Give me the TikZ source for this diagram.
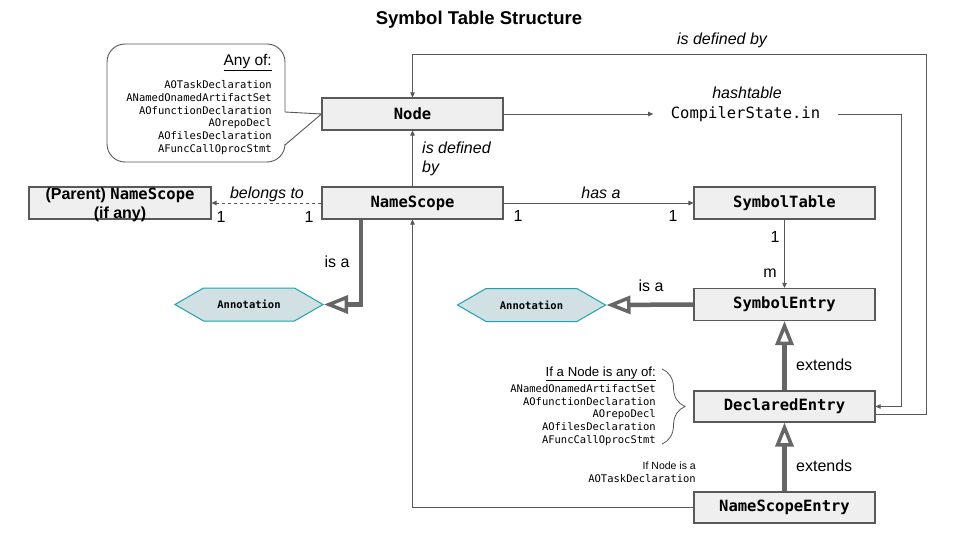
\documentclass[tikz,border=0pt]{standalone}
\usepackage{fontspec}
\setmainfont{Liberation Sans}
\setmonofont{DejaVu Sans Mono}
\usetikzlibrary{arrows.meta,shapes.symbols,decorations.pathreplacing}
\definecolor{boxfill}{HTML}{EFEFEF}
\definecolor{linegray}{HTML}{595959}
\definecolor{thickgray}{HTML}{666666}
\definecolor{hexfill}{HTML}{D0E0E3}
\definecolor{hexline}{HTML}{1AA3B2}
\tikzset{
  classbox/.style={draw=linegray, fill=boxfill, line width=1.1pt, minimum width=181pt, minimum height=32pt, inner sep=0pt, font=\fontsize{15.5}{18}\selectfont\ttfamily\bfseries},
  conn/.style={draw=linegray, line width=0.9pt, -{Triangle[length=5pt,width=4.5pt]}},
  isa/.style={draw=thickgray, line width=4.5pt, -{Triangle[open,length=24pt,width=18pt,line width=3.5pt]}},
  anno/.style={signal, signal to=west and east, signal pointer angle=60, draw=hexline, fill=hexfill, line width=1pt, minimum width=148pt, minimum height=33pt, inner sep=0pt, font=\fontsize{10.5}{12}\selectfont\ttfamily\bfseries},
  lbl/.style={font=\fontsize{16}{19}\selectfont\itshape, inner sep=0pt},
  plain/.style={font=\fontsize{16}{19}\selectfont, inner sep=0pt},
  smallmono/.style={font=\fontsize{10.5}{12.9}\selectfont\ttfamily, align=right, inner sep=0pt},
}
\begin{document}
\begin{tikzpicture}[x=1pt,y=-1pt]
		\useasboundingbox[fill=white] (0,0) rectangle (960,540);
		\node[font=\fontsize{18.5}{22}\selectfont\bfseries] (title) at (479,20) {Symbol Table Structure};
		% Classes
		\node[classbox] (Node) at (412.5,114) {Node};
		\node[classbox] (NameScope) at (412.5,203) {NameScope};
		\node[classbox, minimum width=182pt] (Parent) at (120,203) {};
		\node[font=\fontsize{16}{19}\selectfont\bfseries, align=center, inner sep=0pt] (parenttxt) at (120,205) {(Parent) {\fontsize{15.5}{19}\selectfont\ttfamily NameScope}\\(if any)};
		\node[classbox] (SymbolTable) at (784.5,203) {SymbolTable};
		\node[classbox] (SymbolEntry) at (784.5,304.5) {SymbolEntry};
		\node[classbox, minimum height=31pt] (DeclaredEntry) at (784.5,406.5) {DeclaredEntry};
		\node[classbox, minimum height=31pt] (NameScopeEntry) at (784.5,507.5) {NameScopeEntry};
		\node[font=\fontsize{15.5}{18}\selectfont\ttfamily, inner xsep=17.5pt, inner ysep=0pt] (hash) at (745.5,114) {CompilerState.in};
		\node[lbl] (hashlbl) at (747,93) {hashtable};
		% Annotations
		\node[anno] (annoL) at (249,304.5) {Annotation};
		\node[anno] (annoR) at (531.5,305) {Annotation};
		% Callout of Node
		\draw[linegray, line width=0.9pt, rounded corners=18pt] (285,145) -- (285,162) -- (107,162) -- (107,44) -- (285,44) -- (285,112);
		\draw[linegray, line width=0.9pt] (285,112) -- (Node.west) -- (285,145);
		\node[plain, anchor=east, font=\fontsize{15.5}{18}\selectfont] (anyof) at (272,63) {\underline{Any of:}};
		\node[smallmono, anchor=north east] (anylist) at (272,80) {AOTaskDeclaration\\ANamedOnamedArtifactSet\\AOfunctionDeclaration\\AOrepoDecl\\AOfilesDeclaration\\AFuncCallOprocStmt};
		% Node relations
		\draw[conn] (NameScope.north) -- (Node.south);
		\node[lbl, anchor=west, align=left] (defby) at (422,159) {is defined\\by};
		\draw[conn] (Node.east) -- (hash.west);
		\draw[conn] (hash.east) -| ([xshift=26pt]DeclaredEntry.east) -- (DeclaredEntry.east);
		\draw[conn] ([yshift=-7.5pt]DeclaredEntry.east) -| (926,54) -| (Node.north);
		\node[lbl] (defbytop) at (722,40) {is defined by};
		% NameScope relations
		\draw[conn, dashed] (NameScope.west) -- (Parent.east);
		\node[lbl] (belongs) at (267,194) {belongs to};
		\node[plain] at (221,217) {1};
		\node[plain] at (309,217) {1};
		\draw[conn] (NameScope.east) -- (SymbolTable.west);
		\node[lbl] (hasa) at (601,193) {has a};
		\node[plain] at (518,216) {1};
		\node[plain] at (673,216) {1};
		\draw[isa] ([xshift=-51.5pt]NameScope.south) |- (annoL.east);
		\node[plain] (isaL) at (337,262) {is a};
		\draw[conn] (NameScopeEntry.west) -| (NameScope.south);
		% Symbol table relations
		\draw[conn] (SymbolTable.south) -- (SymbolEntry.north);
		\node[plain] at (775,237) {1};
		\node[plain] at (770,273) {m};
		\draw[isa] (SymbolEntry.west) -- (annoR.east);
		\node[plain] (isaR) at (651,286) {is a};
		\draw[isa] (DeclaredEntry.north) -- (SymbolEntry.south);
		\node[plain, anchor=west] (ext1) at (796,365) {extends};
		\draw[isa] (NameScopeEntry.north) -- (DeclaredEntry.south);
		\node[plain, anchor=west] (ext2) at (796,466) {extends};
		% Notes
		\node[plain, anchor=east, font=\fontsize{13.2}{15}\selectfont] (ifany) at (656,374) {\underline{If a Node is any of:}};
		\node[smallmono, anchor=north east] (iflist) at (656,384) {ANamedOnamedArtifactSet\\AOfunctionDeclaration\\AOrepoDecl\\AOfilesDeclaration\\AFuncCallOprocStmt};
		\draw[linegray, line width=0.8pt, decorate, decoration={brace, amplitude=23pt}] (662,369) -- (662,444);
		\node[smallmono, anchor=east] (iftask) at (696,472) {{\rmfamily If Node is a}\\AOTaskDeclaration};
\end{tikzpicture}
\end{document}
